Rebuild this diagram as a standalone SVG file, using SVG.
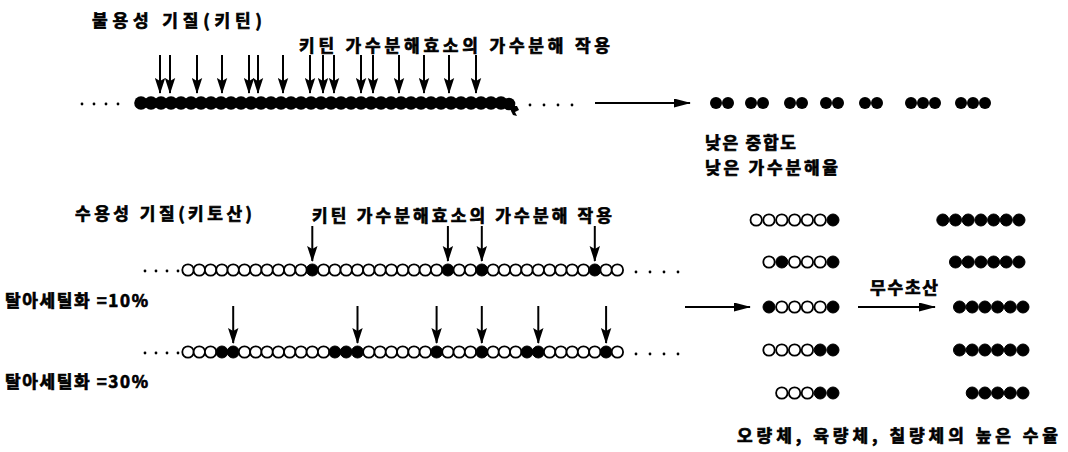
<svg xmlns="http://www.w3.org/2000/svg" xmlns:xlink="http://www.w3.org/1999/xlink" width="1068" height="452" viewBox="0 0 1068 452">
<style>
text{font-family:"Noto Sans CJK KR","Noto Sans",sans-serif;font-weight:700;font-size:17px;fill:#000;stroke:#000;stroke-width:0.7}
.f{fill:#000;stroke:#000;stroke-width:1}
.o{fill:#fff;stroke:#000;stroke-width:1.8}
.d{fill:#000}
.v{stroke:#000;stroke-width:2;fill:none}
.h{stroke:#000;stroke-width:1.8;fill:none}
</style>
<defs>
<marker id="av" markerUnits="userSpaceOnUse" markerWidth="16" markerHeight="11" refX="15" refY="5.5" orient="auto" viewBox="0 0 16 11"><path d="M0,0.3 L16,5.5 L0,10.7 L3,5.5 Z" fill="#000"/></marker>
<marker id="ah" markerUnits="userSpaceOnUse" markerWidth="17" markerHeight="9" refX="16" refY="4.5" orient="auto" viewBox="0 0 17 9"><path d="M0,0 L17,4.5 L0,9 Z" fill="#000"/></marker>
<circle id="ob" r="5.7" class="o"/>
<circle id="fb" r="6" class="f"/>
</defs>

<g id="label-insoluble"><text x="92" y="27" textLength="170" lengthAdjust="spacing">불용성 기질(키틴)</text></g>
<g id="label-enzyme-top"><text x="299" y="52" textLength="311" lengthAdjust="spacing">키틴 가수분해효소의 가수분해 작용</text></g>
<g id="label-low"><text x="705" y="149" textLength="91" lengthAdjust="spacing">낮은 중합도</text><text x="705" y="174" textLength="133" lengthAdjust="spacing">낮은 가수분해율</text></g>
<g id="label-soluble"><text x="75" y="220" textLength="177" lengthAdjust="spacing">수용성 기질(키토산)</text></g>
<g id="label-enzyme-mid"><text x="312" y="222" textLength="300" lengthAdjust="spacing">키틴 가수분해효소의 가수분해 작용</text></g>
<g id="label-da10"><text x="5" y="307" textLength="143" lengthAdjust="spacing">탈아세틸화 =10%</text></g>
<g id="label-da30"><text x="5" y="388" textLength="143" lengthAdjust="spacing">탈아세틸화 =30%</text></g>
<g id="label-anhydride"><text x="870" y="294" textLength="68" lengthAdjust="spacing">무수초산</text></g>
<g id="label-yield"><text x="737" y="442" textLength="321" lengthAdjust="spacing">오량체, 육량체, 칠량체의 높은 수율</text></g>

<g id="chitin-chain">
<circle class="d" cx="82" cy="104" r="1.4"/><circle class="d" cx="94" cy="104" r="1.4"/><circle class="d" cx="106" cy="104" r="1.4"/><circle class="d" cx="118" cy="104" r="1.4"/>
<g fill="#000">
<circle cx="141" cy="103" r="6.8"/><circle cx="151" cy="103" r="6.8"/><circle cx="161" cy="103" r="6.8"/><circle cx="171" cy="103" r="6.8"/><circle cx="181" cy="103" r="6.8"/><circle cx="191" cy="103" r="6.8"/><circle cx="201" cy="103" r="6.8"/><circle cx="211" cy="103" r="6.8"/><circle cx="221" cy="103" r="6.8"/><circle cx="231" cy="103" r="6.8"/><circle cx="241" cy="103" r="6.8"/><circle cx="251" cy="103" r="6.8"/><circle cx="261" cy="103" r="6.8"/><circle cx="271" cy="103" r="6.8"/><circle cx="281" cy="103" r="6.8"/><circle cx="291" cy="103" r="6.8"/><circle cx="301" cy="103" r="6.8"/><circle cx="311" cy="103" r="6.8"/><circle cx="321" cy="103" r="6.8"/><circle cx="331" cy="103" r="6.8"/><circle cx="341" cy="103" r="6.8"/><circle cx="351" cy="103" r="6.8"/><circle cx="361" cy="103" r="6.8"/><circle cx="371" cy="103" r="6.8"/><circle cx="381" cy="103" r="6.8"/><circle cx="391" cy="103" r="6.8"/><circle cx="401" cy="103" r="6.8"/><circle cx="411" cy="103" r="6.8"/><circle cx="421" cy="103" r="6.8"/><circle cx="431" cy="103" r="6.8"/><circle cx="441" cy="103" r="6.8"/><circle cx="451" cy="103" r="6.8"/><circle cx="461" cy="103" r="6.8"/><circle cx="471" cy="103" r="6.8"/><circle cx="481" cy="103" r="6.8"/><circle cx="491" cy="103" r="6.8"/><circle cx="501" cy="103" r="6.8"/><circle cx="509" cy="104" r="6.3"/>
<path d="M510,106 L517,106 L519,110 L515,112 L517,116 L513,115 L511,111 Z"/>
</g>
<circle class="d" cx="530" cy="105" r="1.4"/><circle class="d" cx="544" cy="105" r="1.4"/><circle class="d" cx="558" cy="105" r="1.4"/><circle class="d" cx="572" cy="105" r="1.4"/>
</g>

<g id="oligomers-top" fill="#000">
<circle cx="716" cy="103" r="6"/><circle cx="728" cy="103" r="6"/>
<circle cx="751" cy="103" r="6"/><circle cx="763" cy="103" r="6"/>
<circle cx="790" cy="103" r="6"/><circle cx="802" cy="103" r="6"/>
<circle cx="826" cy="103" r="6"/><circle cx="838" cy="103" r="6"/>
<circle cx="865" cy="103" r="6"/><circle cx="877" cy="103" r="6"/>
<circle cx="911" cy="103" r="6"/><circle cx="923" cy="103" r="6"/><circle cx="935" cy="103" r="6"/>
<circle cx="961" cy="103" r="6"/><circle cx="973" cy="103" r="6"/><circle cx="985" cy="103" r="6"/>
</g>

<g id="chitosan-10">
<circle class="d" cx="145" cy="271" r="1.4"/><circle class="d" cx="156" cy="271" r="1.4"/><circle class="d" cx="167" cy="271" r="1.4"/><circle class="d" cx="178" cy="271" r="1.4"/>
<g transform="translate(0,270)">
<use href="#ob" x="188"/><use href="#ob" x="199.3"/><use href="#ob" x="210.6"/><use href="#ob" x="221.9"/><use href="#ob" x="233.2"/><use href="#ob" x="244.5"/><use href="#ob" x="255.8"/><use href="#ob" x="267.1"/><use href="#ob" x="278.4"/><use href="#ob" x="289.7"/><use href="#ob" x="301"/><use href="#fb" x="312.3"/><use href="#ob" x="323.6"/><use href="#ob" x="334.9"/><use href="#ob" x="346.2"/><use href="#ob" x="357.5"/><use href="#ob" x="368.8"/><use href="#ob" x="380.1"/><use href="#ob" x="391.4"/><use href="#ob" x="402.7"/><use href="#ob" x="414"/><use href="#ob" x="425.3"/><use href="#ob" x="436.6"/><use href="#fb" x="447.9"/><use href="#ob" x="459.2"/><use href="#ob" x="470.5"/><use href="#fb" x="481.8"/><use href="#ob" x="493.1"/><use href="#ob" x="504.4"/><use href="#ob" x="515.7"/><use href="#ob" x="527"/><use href="#ob" x="538.3"/><use href="#ob" x="549.6"/><use href="#ob" x="560.9"/><use href="#ob" x="572.2"/><use href="#ob" x="583.5"/><use href="#fb" x="594.8"/><use href="#ob" x="606.1"/><use href="#ob" x="617.4"/>
</g>
<circle class="d" cx="636" cy="272" r="1.4"/><circle class="d" cx="650" cy="272" r="1.4"/><circle class="d" cx="664" cy="272" r="1.4"/><circle class="d" cx="678" cy="272" r="1.4"/>
</g>

<g id="chitosan-30">
<circle class="d" cx="145" cy="353" r="1.4"/><circle class="d" cx="156" cy="353" r="1.4"/><circle class="d" cx="167" cy="353" r="1.4"/><circle class="d" cx="178" cy="353" r="1.4"/>
<g transform="translate(0,352)">
<use href="#ob" x="188"/><use href="#ob" x="199.3"/><use href="#ob" x="210.6"/><use href="#fb" x="221.9"/><use href="#fb" x="233.2"/><use href="#ob" x="244.5"/><use href="#ob" x="255.8"/><use href="#ob" x="267.1"/><use href="#ob" x="278.4"/><use href="#ob" x="289.7"/><use href="#ob" x="301"/><use href="#ob" x="312.3"/><use href="#ob" x="323.6"/><use href="#fb" x="334.9"/><use href="#fb" x="346.2"/><use href="#fb" x="357.5"/><use href="#ob" x="368.8"/><use href="#ob" x="380.1"/><use href="#ob" x="391.4"/><use href="#ob" x="402.7"/><use href="#ob" x="414"/><use href="#ob" x="425.3"/><use href="#fb" x="436.6"/><use href="#ob" x="447.9"/><use href="#ob" x="459.2"/><use href="#ob" x="470.5"/><use href="#fb" x="481.8"/><use href="#ob" x="493.1"/><use href="#ob" x="504.4"/><use href="#ob" x="515.7"/><use href="#fb" x="527"/><use href="#fb" x="538.3"/><use href="#ob" x="549.6"/><use href="#ob" x="560.9"/><use href="#ob" x="572.2"/><use href="#ob" x="583.5"/><use href="#ob" x="594.8"/><use href="#fb" x="606.1"/><use href="#ob" x="617.4"/>
</g>
<circle class="d" cx="636" cy="354" r="1.4"/><circle class="d" cx="650" cy="354" r="1.4"/><circle class="d" cx="664" cy="354" r="1.4"/><circle class="d" cx="678" cy="354" r="1.4"/>
</g>

<g id="products-mixed">
<g transform="translate(0,220)"><use href="#ob" x="756.2"/><use href="#ob" x="769"/><use href="#ob" x="781.8"/><use href="#ob" x="794.6"/><use href="#ob" x="807.4"/><use href="#ob" x="820.2"/><use href="#fb" x="833"/></g>
<g transform="translate(0,262)"><use href="#ob" x="769"/><use href="#fb" x="781.8"/><use href="#ob" x="794.6"/><use href="#ob" x="807.4"/><use href="#ob" x="820.2"/><use href="#fb" x="833"/></g>
<g transform="translate(0,307)"><use href="#fb" x="769"/><use href="#ob" x="781.8"/><use href="#ob" x="794.6"/><use href="#ob" x="807.4"/><use href="#ob" x="820.2"/><use href="#fb" x="833"/></g>
<g transform="translate(0,350)"><use href="#ob" x="769"/><use href="#ob" x="781.8"/><use href="#ob" x="794.6"/><use href="#ob" x="807.4"/><use href="#fb" x="820.2"/><use href="#fb" x="833"/></g>
<g transform="translate(0,393)"><use href="#ob" x="781.8"/><use href="#ob" x="794.6"/><use href="#ob" x="807.4"/><use href="#fb" x="820.2"/><use href="#fb" x="833"/></g>
</g>

<g id="products-acetylated">
<g transform="translate(0,220)"><use href="#fb" x="942.8"/><use href="#fb" x="955.5"/><use href="#fb" x="968.2"/><use href="#fb" x="980.9"/><use href="#fb" x="993.6"/><use href="#fb" x="1006.3"/><use href="#fb" x="1019"/></g>
<g transform="translate(0,262)"><use href="#fb" x="955.5"/><use href="#fb" x="968.2"/><use href="#fb" x="980.9"/><use href="#fb" x="993.6"/><use href="#fb" x="1006.3"/><use href="#fb" x="1019"/></g>
<g transform="translate(0,307)"><use href="#fb" x="959.5"/><use href="#fb" x="972.2"/><use href="#fb" x="984.9"/><use href="#fb" x="997.6"/><use href="#fb" x="1010.3"/><use href="#fb" x="1023"/></g>
<g transform="translate(0,350)"><use href="#fb" x="959.5"/><use href="#fb" x="972.2"/><use href="#fb" x="984.9"/><use href="#fb" x="997.6"/><use href="#fb" x="1010.3"/><use href="#fb" x="1023"/></g>
<g transform="translate(0,393)"><use href="#fb" x="972.2"/><use href="#fb" x="984.9"/><use href="#fb" x="997.6"/><use href="#fb" x="1010.3"/><use href="#fb" x="1023"/></g>
</g>

<g id="connectors">
<g class="v" marker-end="url(#av)">
<path d="M160,55V93"/><path d="M170,55V93"/><path d="M197,55V93"/><path d="M222,55V93"/><path d="M249,55V93"/><path d="M258,55V93"/><path d="M283,55V93"/><path d="M310,55V93"/><path d="M323,55V93"/><path d="M334,55V93"/><path d="M361,55V93"/><path d="M373,55V93"/><path d="M399,55V93"/><path d="M424,55V93"/><path d="M449,55V93"/><path d="M476,55V93"/>
<path d="M312.3,226V261"/><path d="M447.9,226V261"/><path d="M481.8,226V261"/><path d="M594.8,226V261"/>
<path d="M233.2,306V343"/><path d="M357.5,306V343"/><path d="M436.6,306V343"/><path d="M481.8,306V343"/><path d="M538.3,306V343"/><path d="M606.1,306V343"/>
</g>
<g class="h" marker-end="url(#ah)">
<path d="M595,103H690"/>
<path d="M685,307H750"/>
<path d="M858,307H935"/>
</g>
</g>
</svg>
